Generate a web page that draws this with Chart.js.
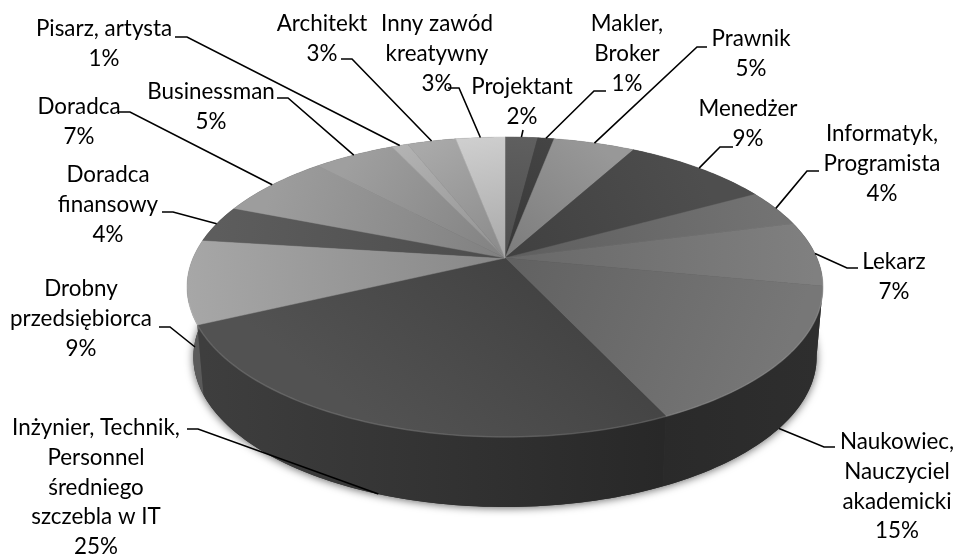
<!DOCTYPE html>
<html lang="pl">

<head>
    <meta charset="UTF-8">
    <title>Zawody</title>
    <script src="https://cdn.jsdelivr.net/npm/chart.js"></script>
    <style>
        html, body {
            margin: 0;
            padding: 0;
            background: white;
        }
    </style>
</head>

<body>
    <canvas id="mycanvas" width="956" height="555"></canvas>

    <script type="text/javascript">
        const categories = ['Projektant', 'Makler, Broker', 'Prawnik', 'Menedżer', 'Informatyk, Programista', 'Lekarz',
            'Naukowiec, Nauczyciel akademicki', 'Inżynier, Technik, Personnel średniego szczebla w IT',
            'Drobny przedsiębiorca', 'Doradca finansowy', 'Doradca', 'Businessman', 'Pisarz, artysta', 'Architekt',
            'Inny zawód kreatywny'];
        const values = [2, 1, 5, 9, 4, 7, 15, 25, 9, 4, 7, 5, 1, 3, 3];
        const topColors = ['#5c5c5c', '#424242', '#949494', '#4c4c4c', '#707070', '#7c7c7c', '#747474', '#505050',
            '#a2a2a2', '#5a5a5a', '#989898', '#9a9a9a', '#aeaeae', '#a4a4a4', '#c8c8c8'];
        // wall colour at each slice's start and end, only the front slices really show
        const sideStart = ['#333', '#333', '#444', '#333', '#333', '#333', '#2e2e2e', '#282828',
            '#5a5a5a', '#444', '#444', '#444', '#444', '#444', '#444'].map(c => '#' + c.slice(1).replace(/^(.)(.)(.)$/, '$1$1$2$2$3$3'));
        const sideEnd = ['#333', '#333', '#444', '#333', '#333', '#333', '#2a2a2a', '#3e3e3e',
            '#8a8a8a', '#444', '#444', '#444', '#444', '#444', '#444'].map(c => '#' + c.slice(1).replace(/^(.)(.)(.)$/, '$1$1$2$2$3$3'));

        // label lines and where the text and its leader go, depth means the leader ends on the lower rim
        const labelLines = [
            ['Projektant'], ['Makler,', 'Broker'], ['Prawnik'], ['Menedżer'], ['Informatyk,', 'Programista'], ['Lekarz'],
            ['Naukowiec,', 'Nauczyciel', 'akademicki'], ['Inżynier, Technik,', 'Personnel', 'średniego', 'szczebla w IT'],
            ['Drobny', 'przedsiębiorca'], ['Doradca', 'finansowy'], ['Doradca'], ['Businessman'], ['Pisarz, artysta'],
            ['Architekt'], ['Inny zawód', 'kreatywny']
        ];
        const labelLayout = [
            { x: 522, y: 87, leader: [[523, 130]] },
            { x: 627, y: 24, leader: [[606, 91], [594, 91]] },
            { x: 751, y: 39, leader: [[707, 47], [697, 47]] },
            { x: 748, y: 109, leader: [[733, 147], [720, 147]] },
            { x: 882, y: 134, leader: [[819, 171], [807, 171]] },
            { x: 894, y: 262, leader: [[858, 268], [847, 268]] },
            { x: 897, y: 442, leader: [[835, 447], [824, 447]], depth: true },
            { x: 96, y: 428, leader: [[187, 429], [198, 429]], depth: true },
            { x: 81, y: 289, leader: [[159, 327], [170, 327]], end: [195, 347] },
            { x: 108, y: 175, leader: [[162, 212], [173, 212]] },
            { x: 79, y: 107, leader: [[119, 112], [130, 112]] },
            { x: 211, y: 92, leader: [[277, 98], [288, 98]] },
            { x: 104, y: 29, leader: [[175, 37], [187, 37]] },
            { x: 322, y: 24, leader: [[341, 59], [352, 59]] },
            { x: 437, y: 24, leader: [[448, 88], [459, 88]] }
        ];

        // pie seen in perspective: unit circle to screen, so the apex sits above the middle of the ellipse
        const pieView = { cx: 505, cy: 287, rx: 312, a: 150, b: -29, k: -0.1933, depth: 70, lowerScale: 0.98 };

        function project(angle, lower) {
            const ux = Math.cos(angle);
            const vy = Math.sin(angle);
            const w = 1 + pieView.k * vy;
            const scale = lower ? pieView.lowerScale : 1;
            return {
                x: pieView.cx + pieView.rx * scale * ux / w,
                y: pieView.cy + (pieView.a * vy + pieView.b) / w + (lower ? pieView.depth : 0)
            };
        }

        function traceRim(ctx, from, to, lower) {
            const steps = Math.max(2, Math.ceil(Math.abs(to - from) / 0.02));
            for (let i = 0; i <= steps; i++) {
                const p = project(from + (to - from) * i / steps, lower);
                ctx.lineTo(p.x, p.y);
            }
        }

        function shade(hex, amount) {
            const n = parseInt(hex.slice(1), 16);
            const f = v => Math.round(Math.min(255, v * amount));
            return `rgb(${f(n >> 16)},${f((n >> 8) & 255)},${f(n & 255)})`;
        }

        const pie3d = {
            id: 'pie3d',
            beforeDatasetDraw(chart, args) {
                const ctx = chart.ctx;
                const arcs = args.meta.data;
                const apex = { x: pieView.cx, y: pieView.cy + pieView.b };

                // outer wall first, with its soft shadow
                ctx.save();
                ctx.shadowColor = 'rgba(0,0,0,0.6)';
                ctx.shadowBlur = 8;
                ctx.shadowOffsetY = 1;
                ctx.fillStyle = '#333';
                ctx.beginPath();
                traceRim(ctx, -Math.PI, Math.PI, true);
                ctx.closePath();
                ctx.fill();
                ctx.restore();

                arcs.forEach((arc, i) => {
                    const a = project(arc.startAngle, true);
                    const b = project(arc.endAngle, true);
                    const grad = ctx.createLinearGradient(a.x, 0, b.x === a.x ? a.x + 1 : b.x, 0);
                    grad.addColorStop(0, sideStart[i]);
                    grad.addColorStop(1, sideEnd[i]);
                    ctx.beginPath();
                    traceRim(ctx, arc.startAngle, arc.endAngle, false);
                    traceRim(ctx, arc.endAngle, arc.startAngle, true);
                    ctx.closePath();
                    ctx.fillStyle = grad;
                    ctx.fill();
                });

                // top faces, a bit darker towards the apex
                arcs.forEach((arc, i) => {
                    const mid = project((arc.startAngle + arc.endAngle) / 2, false);
                    const base = arc.options.backgroundColor;
                    const grad = ctx.createLinearGradient(apex.x, apex.y, mid.x, mid.y);
                    grad.addColorStop(0, shade(base, 0.84));
                    grad.addColorStop(1, shade(base, 1.03));
                    ctx.beginPath();
                    ctx.moveTo(apex.x, apex.y);
                    traceRim(ctx, arc.startAngle, arc.endAngle, false);
                    ctx.closePath();
                    ctx.fillStyle = grad;
                    ctx.strokeStyle = grad;
                    ctx.lineWidth = 0.5;
                    ctx.fill();
                    ctx.stroke();
                });

                // thin light bevel along the front rim
                ctx.save();
                ctx.strokeStyle = 'rgba(255,255,255,0.13)';
                ctx.lineWidth = 1.5;
                ctx.beginPath();
                traceRim(ctx, 0.12, Math.PI - 0.3, false);
                ctx.stroke();
                ctx.restore();
                return false;
            },
            afterDraw(chart) {
                const ctx = chart.ctx;
                const arcs = chart.getDatasetMeta(0).data;
                ctx.save();
                ctx.font = '22.4px Lato';
                ctx.fillStyle = '#000';
                ctx.strokeStyle = '#000';
                ctx.lineWidth = 1.6;
                ctx.textAlign = 'center';
                ctx.textBaseline = 'middle';
                arcs.forEach((arc, i) => {
                    const place = labelLayout[i];
                    const lines = labelLines[i].concat(values[i] + '%');
                    lines.forEach((text, n) => ctx.fillText(text, place.x, place.y + n * 29.7));

                    const rim = project((arc.startAngle + arc.endAngle) / 2, !!place.depth);
                    const end = place.end ? { x: place.end[0], y: place.end[1] } : rim;
                    ctx.beginPath();
                    place.leader.forEach(p => ctx.lineTo(p[0], p[1]));
                    ctx.lineTo(end.x, end.y);
                    ctx.stroke();
                });
                ctx.restore();
            }
        };

        const ctx = document.getElementById('mycanvas').getContext('2d');

        new Chart(ctx, {
            type: 'pie',
            data: {
                labels: categories,
                datasets: [{
                    data: values,
                    backgroundColor: topColors,
                    borderWidth: 0
                }]
            },
            options: {
                responsive: false,
                animation: false,
                plugins: {
                    legend: { display: false },
                    tooltip: { enabled: false }
                }
            },
            plugins: [pie3d]
        });
    </script>

</body>

</html>
